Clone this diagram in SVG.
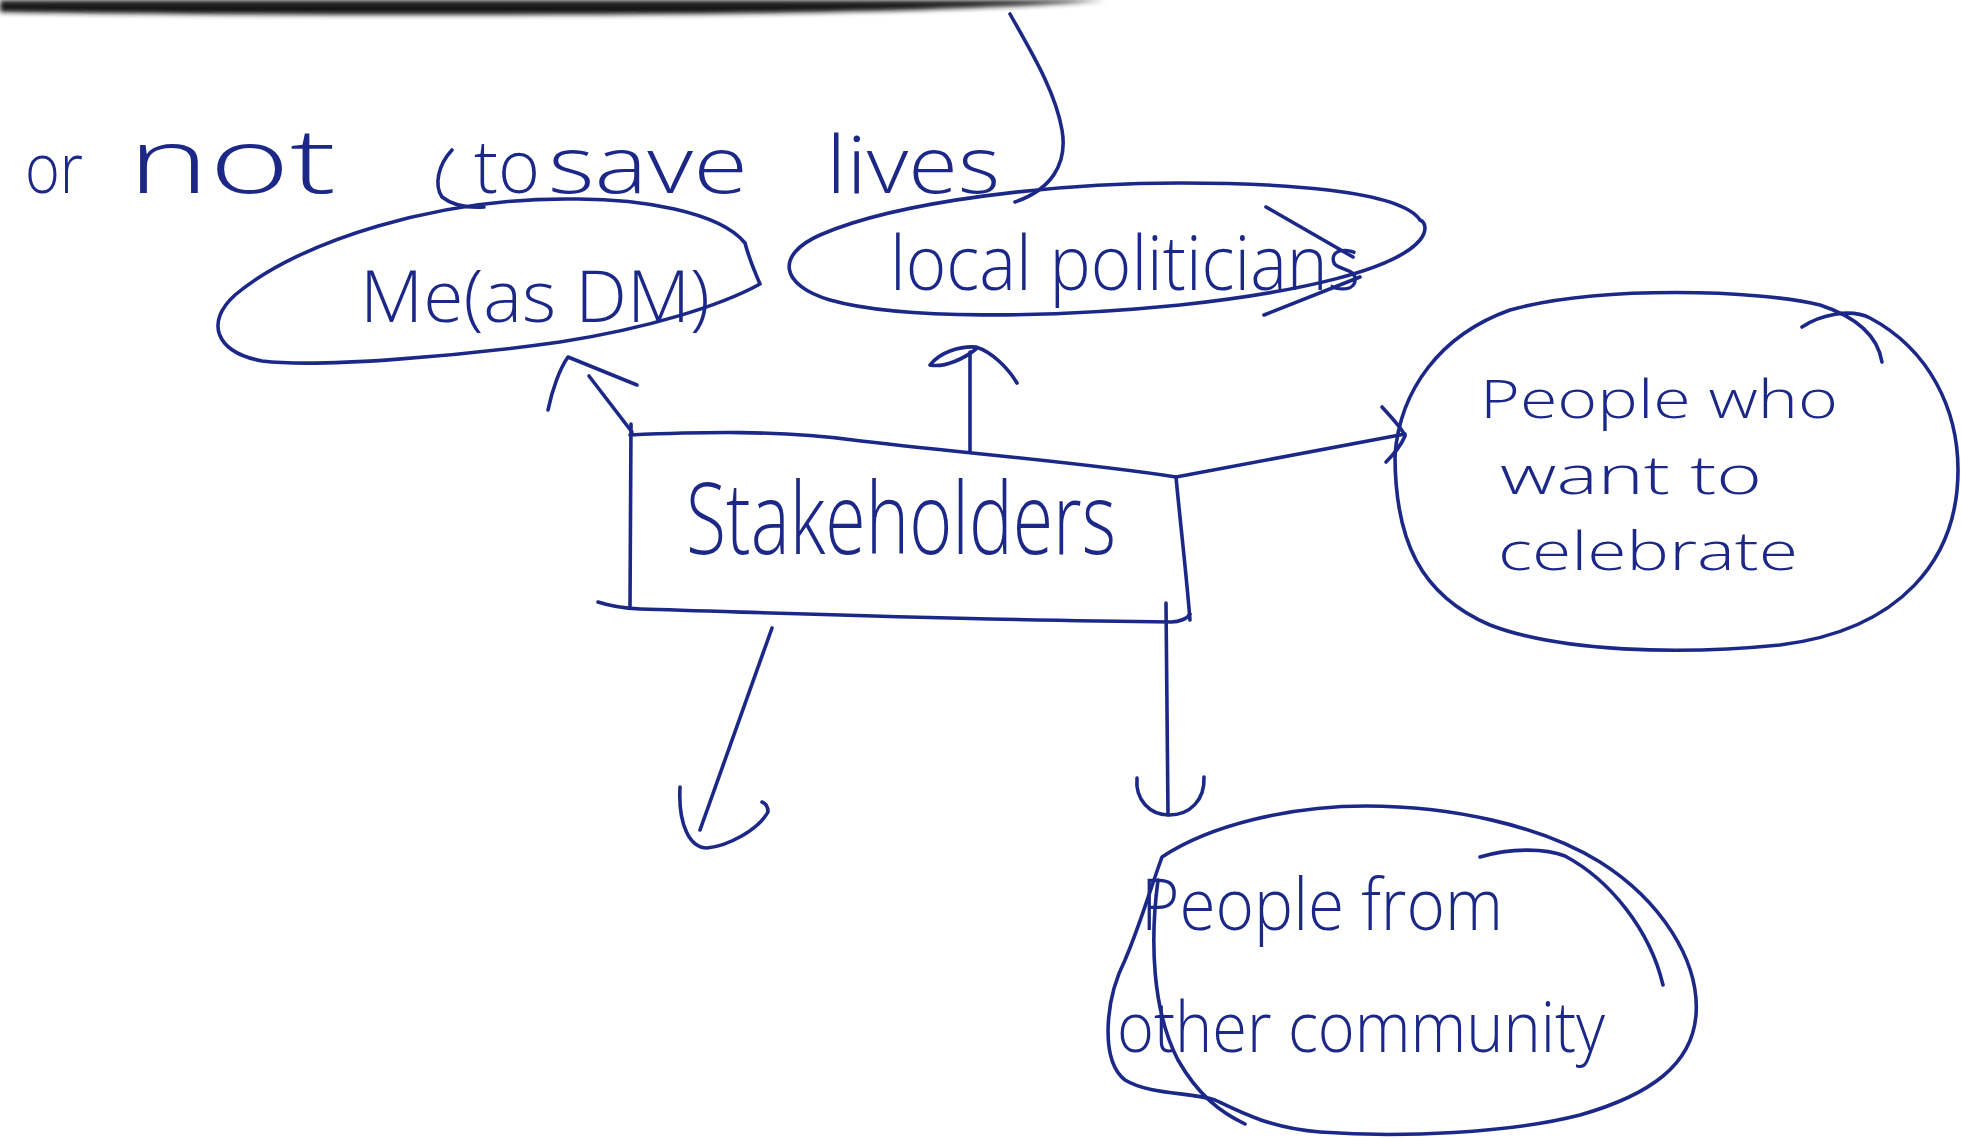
<svg xmlns="http://www.w3.org/2000/svg" width="1961" height="1138" viewBox="0 0 1961 1138">
  <defs>
    <filter id="soft" x="-5%" y="-100%" width="110%" height="300%">
      <feGaussianBlur stdDeviation="2.5"/>
    </filter>
    <linearGradient id="edge" x1="0" y1="0" x2="0" y2="1">
      <stop offset="0" stop-color="#2a2a2a"/>
      <stop offset="0.7" stop-color="#0d0d0d"/>
      <stop offset="1" stop-color="#3a3a3a"/>
    </linearGradient>
  </defs>
  <style>
    .ink { fill: none; stroke: #1c2888; stroke-width: 3.6; stroke-linecap: round; stroke-linejoin: round; }
    .hand { fill: #1c2888; font-family: "Open Sans", "Liberation Sans", "DejaVu Sans", sans-serif; font-weight: 300; }
  </style>

  <!-- paper -->
  <rect x="0" y="0" width="1961" height="1138" fill="#ffffff"/>
  <!-- dark page edge along the top -->
  <path d="M0,0 H1105 C1040,6 900,12 700,14 C 450,16 200,15 0,12 Z" fill="url(#edge)" filter="url(#soft)"/>

  <!-- heading note -->
  <g id="note">
    <text class="hand" x="25" y="193" font-size="70" textLength="58" lengthAdjust="spacingAndGlyphs">or</text>
    <text class="hand" x="128" y="193" font-size="90" textLength="208" lengthAdjust="spacingAndGlyphs">not</text>
    <path class="ink" d="M452,150 C 438,165 434,185 442,197 C 452,205 467,208 484,207"/>
    <text class="hand" x="474" y="193" font-size="74" textLength="66" lengthAdjust="spacingAndGlyphs">to</text>
    <text class="hand" x="548" y="193" font-size="80" textLength="200" lengthAdjust="spacingAndGlyphs">save</text>
    <text class="hand" x="826" y="193" font-size="80" textLength="174" lengthAdjust="spacingAndGlyphs">lives</text>
    <path class="ink" d="M1010,14 C 1030,50 1055,90 1062,130 C 1068,165 1050,190 1015,202"/>
  </g>

  <!-- Me (as DM) -->
  <g id="node-me">
    <path class="ink" d="M745,243 C 720,212 640,198 570,199 C 440,198 300,240 235,295 C 205,322 215,352 262,361 C 320,368 460,356 560,342 C 650,328 722,305 760,284 C 755,272 750,262 745,243"/>
    <text class="hand" x="360" y="322" font-size="72" textLength="350" lengthAdjust="spacingAndGlyphs">Me(as DM)</text>
  </g>

  <!-- local politicians -->
  <g id="node-politicians">
    <path class="ink" d="M1420,220 C 1400,190 1280,183 1180,183 C 1060,183 900,200 820,235 C 775,255 780,285 830,300 C 900,320 1050,318 1180,305 C 1300,292 1395,270 1420,240 C 1428,230 1425,222 1420,220"/>
    <path class="ink" d="M1266,207 L 1353,257 M1264,315 L 1360,277"/>
    <text class="hand" x="890" y="290" font-size="76" textLength="470" lengthAdjust="spacingAndGlyphs">local politicians</text>
  </g>

  <!-- Stakeholders -->
  <g id="node-stakeholders">
    <path class="ink" d="M630,435 C 700,432 780,430 853,440 C 950,452 1080,462 1176,477"/>
    <path class="ink" d="M1176,477 C 1180,520 1186,570 1190,620"/>
    <path class="ink" d="M598,602 C 610,606 620,608 640,609 C 780,613 960,620 1171,622 C 1180,622 1188,618 1190,614"/>
    <path class="ink" d="M631,424 L 630,608"/>
    <text class="hand" x="686" y="554" font-size="100" textLength="430" lengthAdjust="spacingAndGlyphs">Stakeholders</text>
  </g>

  <!-- People who want to celebrate -->
  <g id="node-celebrate">
    <path class="ink" d="M1395,455 C 1400,390 1440,335 1510,310 C 1600,285 1760,290 1820,305 C 1860,318 1878,338 1882,362"/>
    <path class="ink" d="M1802,327 C 1820,315 1850,308 1870,318 C 1930,350 1958,410 1958,470 C 1958,560 1900,630 1780,645 C 1680,655 1560,652 1490,625 C 1420,595 1395,540 1395,455"/>
    <text class="hand" x="1480" y="418" font-size="53" textLength="358" lengthAdjust="spacingAndGlyphs">People who</text>
    <text class="hand" x="1500" y="494" font-size="53" textLength="262" lengthAdjust="spacingAndGlyphs">want to</text>
    <text class="hand" x="1498" y="570" font-size="53" textLength="300" lengthAdjust="spacingAndGlyphs">celebrate</text>
  </g>

  <!-- People from other community -->
  <g id="node-community">
    <path class="ink" d="M1162,857 C 1210,825 1290,806 1366,806 C 1450,806 1540,825 1600,862 C 1660,900 1700,960 1696,1015 C 1692,1065 1650,1095 1580,1115 C 1510,1133 1400,1138 1320,1132 C 1270,1128 1240,1112 1215,1100 C 1190,1092 1150,1095 1125,1080 C 1100,1060 1105,1000 1125,960 C 1140,925 1150,890 1162,857 Z"/>
    <path class="ink" d="M1480,857 C 1510,848 1545,848 1565,856 C 1610,880 1650,930 1663,985"/>
    <path class="ink" d="M1158,880 C 1150,940 1152,1010 1178,1060 C 1198,1095 1220,1112 1245,1124"/>
    <text class="hand" x="1141" y="930" font-size="72" textLength="362" lengthAdjust="spacingAndGlyphs">People from</text>
    <text class="hand" x="1117" y="1052" font-size="70" textLength="488" lengthAdjust="spacingAndGlyphs">other community</text>
  </g>

  <!-- arrows from the Stakeholders box -->
  <g id="connectors">
    <!-- to Me (as DM) -->
    <path class="ink" d="M632,432 L 589,376"/>
    <path class="ink" d="M548,410 C 552,390 560,368 568,357 L 637,385"/>
    <!-- to local politicians -->
    <path class="ink" d="M970,452 L 970,352"/>
    <path class="ink" d="M930,365 C 940,352 960,346 976,347 C 992,352 1008,368 1017,383 M930,365 C 945,368 965,358 976,349"/>
    <!-- to people who want to celebrate -->
    <path class="ink" d="M1176,477 L 1405,434"/>
    <path class="ink" d="M1382,407 C 1392,418 1402,428 1405,436 C 1400,448 1392,456 1386,462"/>
    <!-- open arrow, lower left -->
    <path class="ink" d="M772,628 L 700,830"/>
    <path class="ink" d="M680,787 C 678,825 690,848 707,848 C 728,846 758,830 768,812 C 768,806 765,803 762,802"/>
    <!-- to people from other community -->
    <path class="ink" d="M1166,603 L 1168,815"/>
    <path class="ink" d="M1137,778 C 1135,800 1150,815 1169,815 C 1190,815 1205,800 1204,777"/>
  </g>
</svg>
